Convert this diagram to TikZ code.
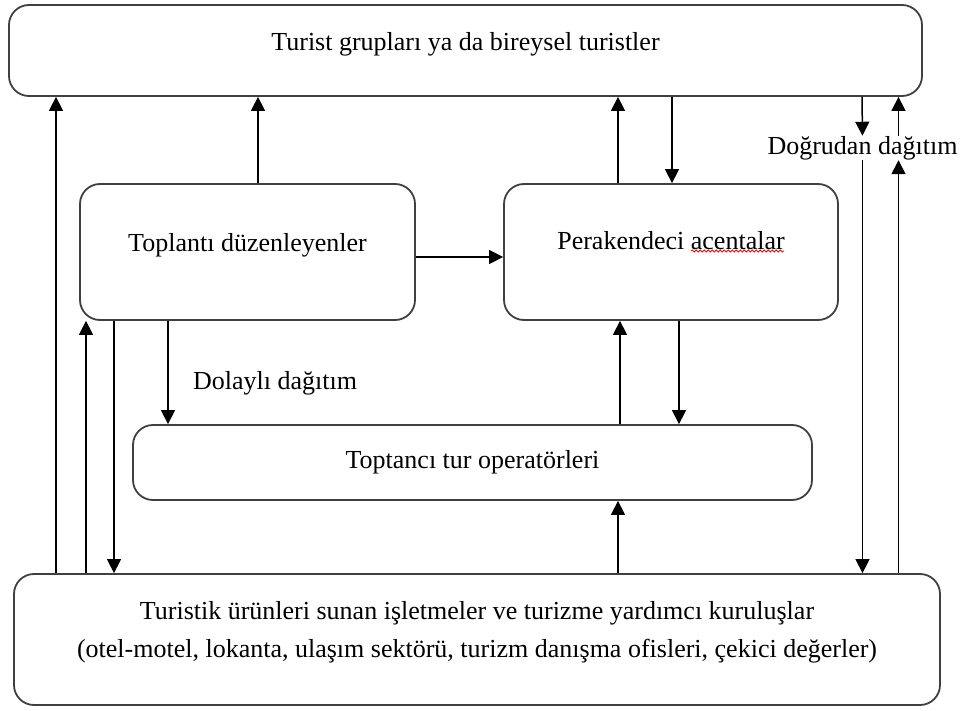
\documentclass[tikz,border=0pt]{standalone}
\usepackage{fontspec}
\setmainfont{Liberation Serif}
\usetikzlibrary{arrows.meta,decorations.pathmorphing}

\begin{document}
\begin{tikzpicture}[x=0.5pt,y=-0.5pt]
      \useasboundingbox (0,0) rectangle (964,711);

      \tikzstyle{box} = [
        rectangle,
        rounded corners=10pt,
        draw=black!75,
        line width=0.9pt,
        align=center,
        font=\fontsize{13}{19}\selectfont,
      ]
      \tikzstyle{boxlabel} = [
        draw=none,
        inner sep=0pt,
        font=\fontsize{13}{19}\selectfont,
      ]

      \tikzstyle{arrow} = [line width=0.75pt,-{Triangle[width=7pt,length=7pt]}]

      % boxes
      \node[box,minimum width=456.5pt,minimum height=45.5pt,text depth=9pt] (boxTourists) at (465.5,50.5) {Turist grupları ya da bireysel turistler};
      \node[box,minimum width=167.5pt,minimum height=68pt,text depth=9.8pt] (boxMeeting) at (247.5,252) {Toplantı düzenleyenler};
      \node[box,minimum width=167pt,minimum height=68pt,text depth=12pt] (boxRetail) at (671,252) {Perakendeci acentalar};
      \node[box,minimum width=339.5pt,minimum height=37.5pt] (boxWholesale) at (472.5,462.5) {Toptancı tur operatörleri};
      \node[box,minimum width=463pt,minimum height=65.5pt,text depth=10pt] (boxSuppliers) at (477,639.5) {Turistik ürünleri sunan işletmeler ve turizme yardımcı kuruluşlar\\(otel-motel, lokanta, ulaşım sektörü, turizm danışma ofisleri, çekici değerler)};

      % spelling mark
      \draw[red,line width=0.4pt,decorate,decoration={snake,amplitude=0.5pt,segment length=2pt}] ([xshift=10pt,yshift=0.5pt] boxRetail.center) -- ([xshift=56.5pt,yshift=0.5pt] boxRetail.center);

      % labels
      \node[boxlabel] (labelDirect) at (862.5,148) {Doğrudan dağıtım};
      \node[boxlabel] (labelIndirect) at (275,383) {Dolaylı dağıtım};

      % up to the tourists
      \draw[arrow] ([xshift=-210.5pt] boxSuppliers.north) -- ([xshift=-204.75pt] boxTourists.south);
      \draw[arrow] ([xshift=5.25pt] boxMeeting.north) -- ([xshift=-103.75pt] boxTourists.south);
      \draw[arrow] ([xshift=-26.5pt] boxRetail.north) -- ([xshift=76.25pt] boxTourists.south);
      \draw[arrow] ([xshift=103.25pt] boxTourists.south) -- ([xshift=0.5pt] boxRetail.north);

      % meeting planners
      \draw[arrow] ([xshift=-195.5pt] boxSuppliers.north) -- ([xshift=-80.75pt] boxMeeting.south);
      \draw[arrow] ([xshift=-66.75pt] boxMeeting.south) -- ([xshift=-181.5pt] boxSuppliers.north);
      \draw[arrow] ([xshift=-39.75pt] boxMeeting.south) -- ([xshift=-152.25pt] boxWholesale.north);
      \draw[arrow] ([yshift=-2.5pt] boxMeeting.east) -- ([yshift=-2.5pt] boxRetail.west);

      % retail and wholesale
      \draw[arrow] ([xshift=73.75pt] boxWholesale.north) -- ([xshift=-25.5pt] boxRetail.south);
      \draw[arrow] ([xshift=4pt] boxRetail.south) -- ([xshift=103.25pt] boxWholesale.north);
      \draw[arrow] ([xshift=70.5pt] boxSuppliers.north) -- ([xshift=72.75pt] boxWholesale.south);

      % direct
      \draw[arrow] ([xshift=198.25pt] boxTourists.south) -- (labelDirect.north);
      \draw[arrow] (labelDirect.south) -- ([xshift=192.75pt] boxSuppliers.north);
      \draw[arrow] ([xshift=210.75pt] boxSuppliers.north) -- ([xshift=18pt] labelDirect.south);
      \draw[arrow] ([xshift=18pt] labelDirect.north) -- ([xshift=216.5pt] boxTourists.south);
    \end{tikzpicture}
\end{document}
